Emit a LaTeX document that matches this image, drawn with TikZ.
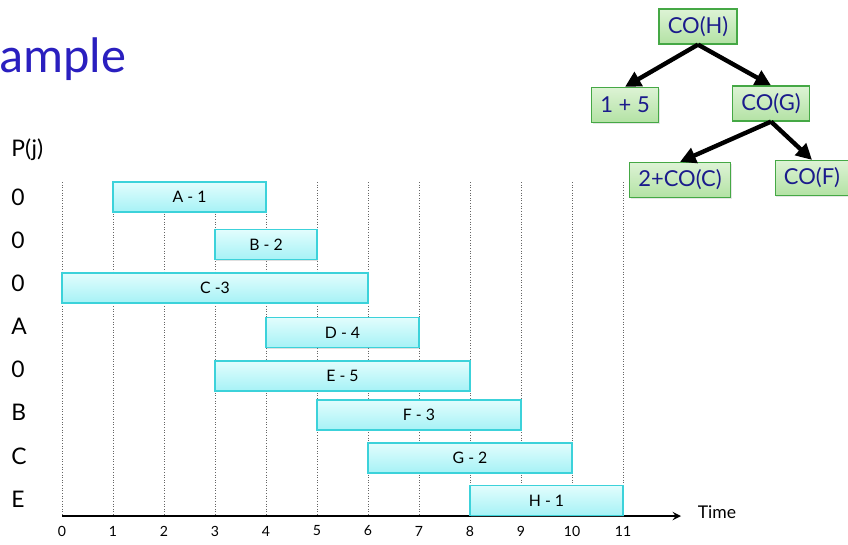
\documentclass[tikz,border=0pt]{standalone}
\usepackage{fontspec}
\setmainfont{Lato}
\newfontfamily\titleFont{Carlito}
\usepackage{xcolor}
\definecolor{titleBlue}{HTML}{2A1FBF}
\definecolor{jobBorder}{HTML}{3CD2DA}
\definecolor{jobTop}{HTML}{E2FDFD}
\definecolor{jobBottom}{HTML}{A6F2F6}
\definecolor{treeBorder}{HTML}{45A845}
\definecolor{treeTop}{HTML}{DDF3D5}
\definecolor{treeBottom}{HTML}{B3E2A4}
\definecolor{treeText}{HTML}{1B1B8C}
\usepackage{tikz}
\usetikzlibrary{shapes, shadows, arrows.meta, positioning, calc}

\begin{document}
\begin{tikzpicture}[
        x=0.02cm, y=-0.02cm,
        >=stealth,
        jobBox/.style={
            draw=jobBorder,
            top color=jobTop,
            bottom color=jobBottom,
            line width=0.7pt,
            minimum height=0.6cm,
            minimum width=#1*1.02cm,
            inner sep=0pt,
            font=\fontsize{9}{10}\selectfont,
            drop shadow={opacity=0.25, shadow xshift=0.6pt, shadow yshift=-0.6pt}
        },
        treeBox/.style={
            draw=treeBorder,
            top color=treeTop,
            bottom color=treeBottom,
            line width=0.7pt,
            minimum height=0.7cm,
            inner xsep=5pt,
            font=\fontsize{12.5}{14}\selectfont,
            text=treeText,
            drop shadow={opacity=0.2, shadow xshift=0.6pt, shadow yshift=-0.6pt}
        },
        rowLabel/.style={
            anchor=west,
            inner sep=0pt,
            font=\fontsize{13}{14}\selectfont
        },
        tickLabel/.style={
            font=\fontsize{8}{9}\selectfont
        },
        gridLine/.style={
            densely dotted,
            gray!80!black,
            line width=0.5pt
        },
        axisLine/.style={
            ->,
            line width=1.1pt
        },
        treeArrow/.style={
            -{Triangle[length=9pt,width=9pt]},
            line width=2.5pt
        }
    ]
    \useasboundingbox (0,0) rectangle (848,544);

    % Title
    \node[anchor=base west, inner sep=0pt, font=\titleFont\fontsize{28.5}{30}\selectfont, text=titleBlue] (title) at (-1,72) {ample};

    % Row labels
    \node[rowLabel] (pj) at (11,150) {P(j)};
    \node[rowLabel] (rowA) at (11,197) {0};
    \node[rowLabel] (rowB) at (11,240) {0};
    \node[rowLabel] (rowC) at (11,283) {0};
    \node[rowLabel] (rowD) at (11,326) {A};
    \node[rowLabel] (rowE) at (11,369) {0};
    \node[rowLabel] (rowF) at (11,412) {B};
    \node[rowLabel] (rowG) at (11,456) {C};
    \node[rowLabel] (rowH) at (11,499) {E};

    % Grid and time ticks
    \foreach \t in {0,...,11} {
        \draw[gridLine] (62+51*\t,182) -- (62+51*\t,516);
        \node[tickLabel] (tick\t) at (62+51*\t,531) {\t};
    }

    % Time axis
    \coordinate (axisStart) at (62,516);
    \coordinate (axisEnd) at (681,516);
    \draw[axisLine] (axisStart) -- (axisEnd);
    \node[right=6pt of axisEnd, font=\fontsize{10}{12}\selectfont, yshift=2pt] (timeLabel) {Time};

    % Jobs
    \node[jobBox=3] (jobA) at (189.5,197) {A - 1};
    \node[jobBox=2] (jobB) at (266,244.5) {B - 2};
    \node[jobBox=6] (jobC) at (215,288) {C -3};
    \node[jobBox=3] (jobD) at (342.5,332.5) {D - 4};
    \node[jobBox=5] (jobE) at (342.5,376) {E - 5};
    \node[jobBox=4] (jobF) at (419,415) {F - 3};
    \node[jobBox=4] (jobG) at (470,458) {G - 2};
    \node[jobBox=3] (jobH) at (546.5,500.5) {H - 1};

    % Recursion tree
    \node[treeBox] (coH) at (698,26.5) {CO(H)};
    \node[treeBox] (oneFive) at (625,105) {1 + 5};
    \node[treeBox] (coG) at (771,103.5) {CO(G)};
    \node[treeBox] (twoC) at (680,180) {2+CO(C)};
    \node[treeBox] (coF) at (812,178) {CO(F)};

    \draw[treeArrow] (coH.south) -- (oneFive.north);
    \draw[treeArrow] (coH.south) -- (coG.north);
    \draw[treeArrow] (coG.south) -- (twoC.north);
    \draw[treeArrow] (coG.south) -- (coF.north);

\end{tikzpicture}
\end{document}
